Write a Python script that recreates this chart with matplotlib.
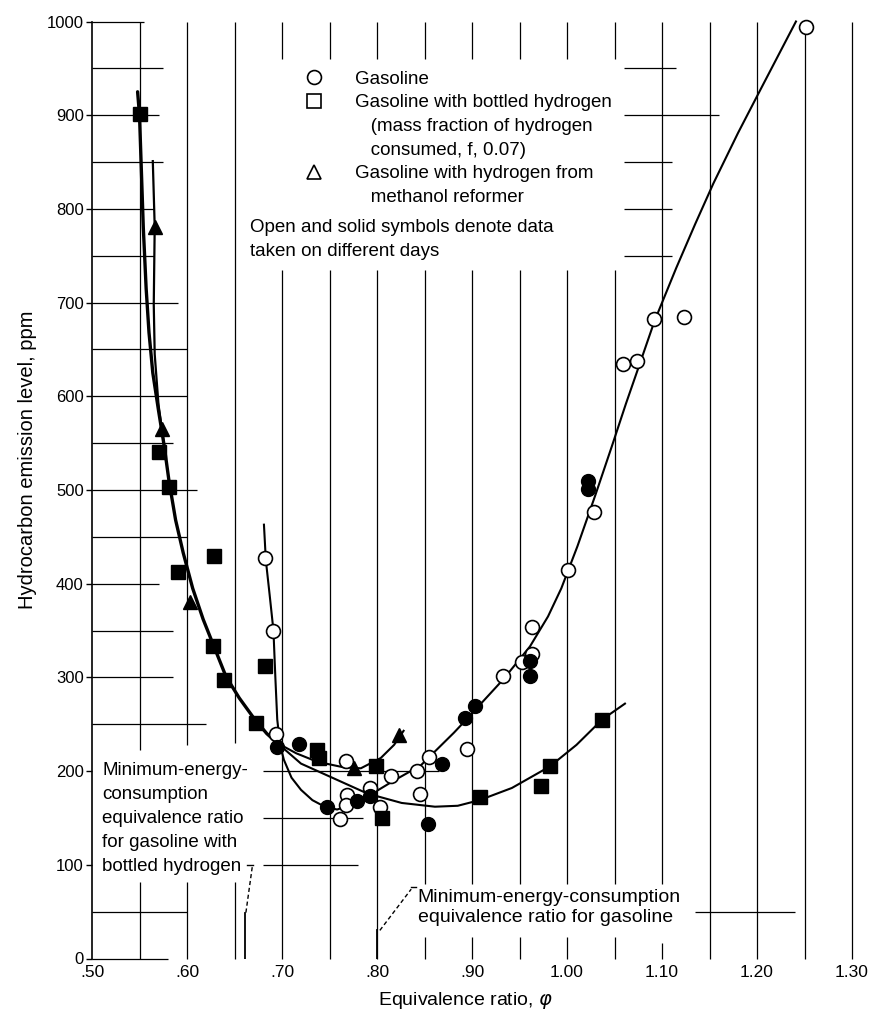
import matplotlib.pyplot as plt
from matplotlib.lines import Line2D

# ---- data ----
# gasoline, open symbols
gas_open_x = [.682, .691, .694, .767, .768, .767, .761, .793, .803, .815, .842, .845, .855,
              .895, .933, .953, .963, .963, 1.001, 1.028, 1.059, 1.074, 1.092, 1.123, 1.252]
gas_open_y = [427, 350, 240, 211, 175, 164, 149, 182, 162, 195, 200, 176, 215,
              224, 301, 316, 325, 354, 415, 476, 634, 638, 682, 685, 994]
# gasoline, solid symbols
gas_solid_x = [.695, .718, .747, .779, .793, .854, .868, .893, .903, .961, .961, 1.022, 1.022]
gas_solid_y = [226, 229, 162, 168, 173, 144, 208, 257, 269, 317, 302, 510, 501]
# gasoline with bottled hydrogen (solid squares)
h2_x = [.550, .570, .581, .591, .628, .627, .639, .673, .682, .737, .739, .799, .805,
        .908, .982, .973, 1.037]
h2_y = [901, 541, 503, 412, 430, 334, 297, 251, 312, 222, 214, 205, 150,
        172, 205, 184, 255]
# gasoline with hydrogen from methanol reformer (solid triangles)
meth_x = [.566, .574, .603, .776, .823]
meth_y = [781, 565, 380, 203, 238]

# faired curves
gas_curve_x = [.681, .683, .687, .691, .693, .695, .698, .702, .710, .720, .732, .745, .758,
               .770, .785, .800, .818, .846, .881, .894, .933, .961, .980, .994, 1.011,
               1.030, 1.047, 1.062, 1.075, 1.092, 1.115, 1.135, 1.154, 1.180, 1.204, 1.241]
gas_curve_y = [463, 425, 388, 350, 300, 255, 228, 212, 193, 180, 169, 162, 159,
               163, 170, 179, 190, 206, 241, 255, 298, 333, 365, 395, 440,
               495, 546, 592, 630, 680, 737, 784, 827, 881, 928, 1000]
h2_left_x = [.548, .550, .552, .554, .557, .560, .564, .570, .576, .581, .588, .596, .606,
             .617, .628, .641, .655, .670, .684, .695]
h2_left_y = [925, 900, 840, 780, 715, 668, 625, 585, 547, 510, 468, 433, 395,
             362, 334, 301, 278, 257, 240, 230]
h2_right_x = [.695, .720, .755, .790, .826, .861, .885, .908, .942, .982, 1.010, 1.037, 1.061]
h2_right_y = [230, 208, 192, 176, 166, 162, 163, 169, 182, 205, 228, 255, 272]
meth_top_x = [.564, .566, .565, .566, .570, .576]
meth_top_y = [851, 781, 698, 645, 591, 547]
meth_right_x = [.695, .715, .737, .765, .783, .804, .818, .828]
meth_right_y = [230, 219, 210, 204, 203, 214, 228, 243]

x_ticks = [.50, .60, .70, .80, .90, 1.00, 1.10, 1.20, 1.30]
x_tick_labels = ['.50', '.60', '.70', '.80', '.90', '1.00', '1.10', '1.20', '1.30']
y_ticks = [0, 100, 200, 300, 400, 500, 600, 700, 800, 900, 1000]

# ---- partial grid of the original sheet ----
vgrid = {
    .55: [(222, 1000), (0, 82)], .60: [(228, 1000), (0, 82)], .65: [(230, 1000), (0, 82)],
    .70: [(0, 735), (960, 1000)], .75: [(0, 735), (960, 1000)], .80: [(0, 735), (960, 1000)],
    .85: [(80, 735), (960, 1000), (0, 23)], .90: [(80, 735), (960, 1000), (0, 23)],
    .95: [(80, 735), (960, 1000), (0, 23)], 1.00: [(80, 735), (960, 1000), (0, 23)],
    1.05: [(80, 735), (960, 1000), (0, 23)], 1.10: [(80, 1000), (0, 17)],
    1.15: [(0, 1000)], 1.20: [(0, 1000)], 1.25: [(0, 1000)], 1.30: [(0, 1000)],
}
hgrid = {
    1000: [(.50, .555)], 950: [(.50, .575), (1.06, 1.115)], 900: [(.50, .57), (1.06, 1.16)],
    850: [(.50, .575), (1.06, 1.11)], 800: [(.50, .565), (1.06, 1.11)],
    750: [(.50, .565), (1.06, 1.11)], 700: [(.50, .59)], 650: [(.50, .60)], 600: [(.50, .60)],
    550: [(.50, .585)], 500: [(.50, .61)], 450: [(.50, .60)], 400: [(.50, .57)],
    350: [(.50, .585)], 300: [(.50, .585)], 250: [(.50, .62)], 200: [(.68, .865)],
    150: [(.68, .785)], 100: [(.68, .78)], 50: [(.50, .60), (1.135, 1.24)], 0: [(.50, .58)],
}

plt.rcParams['font.family'] = ['Liberation Sans', 'DejaVu Sans']

fig = plt.figure(figsize=(8.7, 10.14), dpi=100)
ax = fig.add_axes([92 / 870, 1 - 958.5 / 1014, 760 / 870, 937 / 1014])
ax.set_xlim(0.50, 1.30)
ax.set_ylim(0, 1000)
for s in ['top', 'right', 'bottom']:
    ax.spines[s].set_visible(False)
ax.spines['left'].set_linewidth(1.2)

for x, segs in vgrid.items():
    for y0, y1 in segs:
        ax.vlines(x, y0, y1, color='black', lw=0.9, clip_on=False)
for y, segs in hgrid.items():
    for x0, x1 in segs:
        ax.hlines(y, x0, x1, color='black', lw=0.9, clip_on=False)

# curves
ax.plot(gas_curve_x, gas_curve_y, color='black', lw=1.5, clip_on=False)
ax.plot(h2_left_x, h2_left_y, color='black', lw=2.4, solid_capstyle='round')
ax.plot(h2_right_x, h2_right_y, color='black', lw=1.5)
ax.plot(meth_top_x, meth_top_y, color='black', lw=1.6)
ax.plot(meth_right_x, meth_right_y, color='black', lw=1.5)

# symbols
ax.plot(gas_open_x, gas_open_y, 'o', ms=10, mfc='white', mec='black', mew=1.2,
        zorder=5, clip_on=False)
ax.plot(gas_solid_x, gas_solid_y, 'o', ms=10, mfc='black', mec='black', zorder=5)
ax.plot(h2_x, h2_y, 's', ms=10, mfc='black', mec='black', zorder=5)
ax.plot(meth_x, meth_y, '^', ms=10, mfc='black', mec='black', zorder=5)

# key
handles = [
    Line2D([], [], ls='none', marker='o', ms=10, mfc='white', mec='black', mew=1.2),
    Line2D([], [], ls='none', marker='s', ms=9.5, mfc='white', mec='black', mew=1.2),
    Line2D([], [], ls='none'),
    Line2D([], [], ls='none'),
    Line2D([], [], ls='none', marker='^', ms=10, mfc='white', mec='black', mew=1.2),
    Line2D([], [], ls='none'),
]
labels = ['Gasoline', 'Gasoline with bottled hydrogen', '   (mass fraction of hydrogen',
          '   consumed, f, 0.07)', 'Gasoline with hydrogen from', '   methanol reformer']
ax.legend(handles, labels, loc='upper left', bbox_to_anchor=(.7193, 947.5),
          bbox_transform=ax.transData, frameon=False, fontsize=13.5, borderpad=0,
          borderaxespad=0, handlelength=1.5, handletextpad=1.43, labelspacing=0.345)
ax.text(.666, 767.5, 'Open and solid symbols denote data\ntaken on different days',
        fontsize=13.5, va='center', ha='left', linespacing=1.5)

# minimum-energy-consumption markers
ax.text(.511, 149.5, 'Minimum-energy-\nconsumption\nequivalence ratio\nfor gasoline with\nbottled hydrogen',
        fontsize=13.5, va='center', ha='left', linespacing=1.54)
ax.plot([.661, .661], [0, 49], color='black', lw=1.3)
ax.plot([.662, .669], [49, 100], color='black', lw=1.0, ls=(0, (3, 2)))
ax.plot([.663, .669], [100, 100], color='black', lw=1.0)

ax.text(.843, 54.5, 'Minimum-energy-consumption\nequivalence ratio for gasoline',
        fontsize=14, va='center', ha='left', linespacing=1.25)
ax.plot([.800, .800], [0, 30], color='black', lw=1.3)
ax.plot([.803, .836], [30, 74], color='black', lw=1.0, ls=(0, (3, 2)))
ax.plot([.836, .841], [76, 76], color='black', lw=1.0)

ax.set_xticks(x_ticks)
ax.set_xticklabels(x_tick_labels)
ax.set_yticks(y_ticks)
ax.tick_params(axis='x', length=0, pad=5, labelsize=12.5)
ax.tick_params(axis='y', length=4, width=1, pad=2, labelsize=12, direction='out')

ax.set_xlabel('Equivalence ratio, $\\varphi$', fontsize=14)
ax.xaxis.set_label_coords(0.491, -0.034)
ax.set_ylabel('Hydrocarbon emission level, ppm', fontsize=14.5)
ax.yaxis.set_label_coords(-0.073, 0.532)

fig.savefig('out.png', dpi=100)
